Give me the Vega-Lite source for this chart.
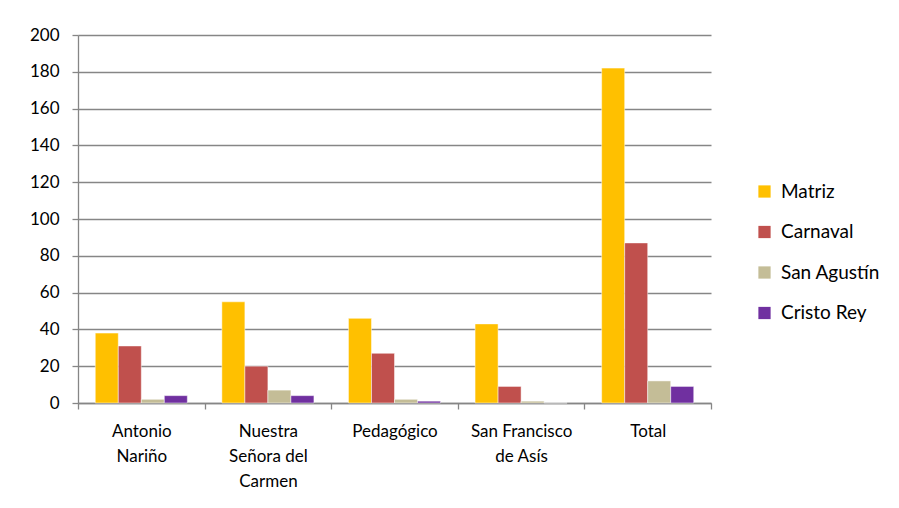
{
  "$schema": "https://vega.github.io/schema/vega-lite/v6.json",
  "width": 633,
  "height": 368,
  "autosize": {"type": "none"},
  "padding": {"left": 78, "top": 35, "right": 188, "bottom": 105},
  "background": "white",
  "data": {
    "values": [
      {"grupo": "Antonio Nariño", "sede": "Matriz", "valor": 38},
      {"grupo": "Antonio Nariño", "sede": "Carnaval", "valor": 31},
      {"grupo": "Antonio Nariño", "sede": "San Agustín", "valor": 2},
      {"grupo": "Antonio Nariño", "sede": "Cristo Rey", "valor": 4},
      {"grupo": "Nuestra Señora del Carmen", "sede": "Matriz", "valor": 55},
      {"grupo": "Nuestra Señora del Carmen", "sede": "Carnaval", "valor": 20},
      {"grupo": "Nuestra Señora del Carmen", "sede": "San Agustín", "valor": 7},
      {"grupo": "Nuestra Señora del Carmen", "sede": "Cristo Rey", "valor": 4},
      {"grupo": "Pedagógico", "sede": "Matriz", "valor": 46},
      {"grupo": "Pedagógico", "sede": "Carnaval", "valor": 27},
      {"grupo": "Pedagógico", "sede": "San Agustín", "valor": 2},
      {"grupo": "Pedagógico", "sede": "Cristo Rey", "valor": 1},
      {"grupo": "San Francisco de Asís", "sede": "Matriz", "valor": 43},
      {"grupo": "San Francisco de Asís", "sede": "Carnaval", "valor": 9},
      {"grupo": "San Francisco de Asís", "sede": "San Agustín", "valor": 1},
      {"grupo": "San Francisco de Asís", "sede": "Cristo Rey", "valor": 0},
      {"grupo": "Total", "sede": "Matriz", "valor": 182},
      {"grupo": "Total", "sede": "Carnaval", "valor": 87},
      {"grupo": "Total", "sede": "San Agustín", "valor": 12},
      {"grupo": "Total", "sede": "Cristo Rey", "valor": 9}
    ]
  },
  "mark": {"type": "bar", "stroke": "#ffffff", "strokeOpacity": 0.6, "strokeWidth": 0.8},
  "encoding": {
    "x": {
      "field": "grupo",
      "type": "nominal",
      "sort": null,
      "scale": {"paddingInner": 0, "paddingOuter": 0},
      "axis": {
        "title": null,
        "labelAngle": 0,
        "tickBand": "extent",
        "tickSize": 6,
        "tickColor": "#868686",
        "tickWidth": 1.3,
        "domainColor": "#868686",
        "domainWidth": 1.3,
        "labelFont": "Lato",
        "labelFontSize": 17,
        "labelColor": "#000000",
        "labelPadding": 14,
        "labelLineHeight": 25,
        "labelBaseline": "top",
        "grid": false,
        "labelExpr": "datum.label == 'Antonio Nariño' ? ['Antonio', 'Nariño'] : datum.label == 'Nuestra Señora del Carmen' ? ['Nuestra', 'Señora del', 'Carmen'] : datum.label == 'San Francisco de Asís' ? ['San Francisco', 'de Asís'] : datum.label"
      }
    },
    "xOffset": {
      "field": "sede",
      "type": "nominal",
      "sort": ["Matriz", "Carnaval", "San Agustín", "Cristo Rey"],
      "scale": {"paddingInner": 0, "paddingOuter": 0.75}
    },
    "y": {
      "field": "valor",
      "type": "quantitative",
      "scale": {"domain": [0, 200], "nice": false},
      "axis": {
        "title": null,
        "values": [0, 20, 40, 60, 80, 100, 120, 140, 160, 180, 200],
        "tickSize": 6,
        "tickColor": "#868686",
        "tickWidth": 1.3,
        "domain": true,
        "domainColor": "#868686",
        "domainWidth": 1.3,
        "gridColor": "#868686",
        "gridWidth": 1.3,
        "labelFont": "Lato",
        "labelFontSize": 17,
        "labelColor": "#000000",
        "labelPadding": 13
      }
    },
    "color": {
      "field": "sede",
      "type": "nominal",
      "sort": ["Matriz", "Carnaval", "San Agustín", "Cristo Rey"],
      "scale": {
        "domain": ["Matriz", "Carnaval", "San Agustín", "Cristo Rey"],
        "range": ["#FFC000", "#C0504D", "#C4BD97", "#7030A0"]
      },
      "legend": {
        "title": null,
        "orient": "none",
        "legendX": 677,
        "legendY": 147,
        "symbolType": "square",
        "symbolSize": 150,
        "symbolStrokeWidth": 0,
        "rowPadding": 20.5,
        "labelFont": "Lato",
        "labelFontSize": 19,
        "labelColor": "#000000",
        "labelOffset": 7
      }
    }
  },
  "config": {
    "view": {"stroke": null}
  }
}
